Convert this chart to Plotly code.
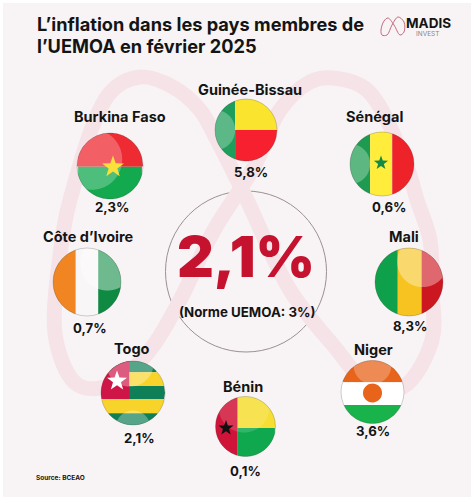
import numpy as np
import plotly.graph_objects as go

# data
countries = ['Guinée-Bissau', 'Burkina Faso', 'Sénégal', "Côte d’Ivoire", 'Mali', 'Togo', 'Niger', 'Bénin']
inflation = [5.8, 2.3, 0.6, 0.7, 8.3, 2.1, 3.6, 0.1]
uemoa_rate = 2.1
uemoa_norm = 3

# layout of the infographic, in pixels of the page
label_pos = [(250, 89), (120, 116), (374, 116), (88, 236), (404, 236), (132, 348), (373, 349), (243, 386)]
value_pos = [(251, 172), (112, 207), (389, 207), (90, 328), (410, 326), (139, 438), (373, 431), (245, 471)]
flag_pos = [(246, 130, 31), (110, 166, 33), (382, 164, 32), (87, 282, 34), (409, 282, 34),
            (133, 393, 32), (372.5, 392, 31.5), (245.5, 426.5, 30)]

BG = '#F8F4F5'
WATERMARK = '#F6E3E7'
RED = '#C4122F'
INK = '#141414'
FONT = 'Inter'


def band(c, x0, x1, y0, y1, color):
    # rectangle (fractions of the radius) cut to the round flag
    cx, cy, r = c
    xs = np.linspace(max(x0, -1), min(x1, 1), 60)
    h = np.sqrt(np.clip(1 - xs ** 2, 0, None))
    top = np.maximum(-h, y0)
    bot = np.minimum(h, y1)
    keep = top <= bot
    xs, top, bot = xs[keep], top[keep], bot[keep]
    px = np.concatenate([xs, xs[::-1]]) * r + cx
    py = np.concatenate([top, bot[::-1]]) * r + cy
    return poly(px, py, color)


def lens(c, dx, dy, k, opacity):
    # part of the flag inside a second, shifted circle: the glossy highlight
    cx, cy, r = c
    xs = np.linspace(max(-1, dx - k), min(1, dx + k), 120)
    h1 = np.sqrt(np.clip(1 - xs ** 2, 0, None))
    h2 = np.sqrt(np.clip(k ** 2 - (xs - dx) ** 2, 0, None))
    top = np.maximum(-h1, dy - h2)
    bot = np.minimum(h1, dy + h2)
    keep = top <= bot
    xs, top, bot = xs[keep], top[keep], bot[keep]
    px = np.concatenate([xs, xs[::-1]]) * r + cx
    py = np.concatenate([top, bot[::-1]]) * r + cy
    return poly(px, py, 'white', opacity)


def star(x, y, r, color):
    a = np.arange(10) * np.pi / 5 - np.pi / 2
    rr = np.where(np.arange(10) % 2 == 0, r, r * 0.4)
    return poly(x + rr * np.cos(a), y + rr * np.sin(a), color)


def disc(x, y, r, color):
    a = np.linspace(0, 2 * np.pi, 40)
    return poly(x + r * np.cos(a), y + r * np.sin(a), color)


def poly(px, py, color, opacity=1):
    path = 'M' + 'L'.join(f'{a:.2f},{b:.2f}' for a, b in zip(px, py)) + 'Z'
    return dict(type='path', path=path, fillcolor=color, opacity=opacity, line_width=0, layer='above')


def ring(c):
    cx, cy, r = c
    return dict(type='circle', x0=cx - r, x1=cx + r, y0=cy - r, y1=cy + r,
                line=dict(color='rgba(60,60,60,0.3)', width=0.8), layer='above')


c = flag_pos
flags = [
    # Guinée-Bissau (the flag on the original is the one of Benin)
    band(c[0], -1, -0.35, -1, 1, '#1F9D5B'), band(c[0], -0.35, 1, -1, 0, '#FBE42D'), band(c[0], -0.35, 1, 0, 1, '#F6202F'),
    lens(c[0], -1.0, 0, 0.65, 0.28),
    # Burkina Faso
    band(c[1], -1, 1, -1, 0.02, '#EE2B33'), band(c[1], -1, 1, 0.02, 1, '#12A94F'),
    lens(c[1], -0.55, -0.2, 0.92, 0.25), star(113, 167, 11.5, '#F9E03A'),
    # Sénégal
    band(c[2], -1, -0.37, -1, 1, '#1E9B50'), band(c[2], -0.37, 0.32, -1, 1, '#FFEC3B'), band(c[2], 0.32, 1, -1, 1, '#EE2229'),
    lens(c[2], -1.0, 0, 0.63, 0.28), star(381, 163, 7.5, '#138A45'),
    # Côte d'Ivoire
    band(c[3], -1, -0.33, -1, 1, '#F08522'), band(c[3], -0.33, 0.33, -1, 1, '#F8F6F6'), band(c[3], 0.33, 1, -1, 1, '#0F8A43'),
    lens(c[3], 0.6, -0.55, 0.8, 0.4),
    # Mali
    band(c[4], -1, -0.33, -1, 1, '#0FA04B'), band(c[4], -0.33, 0.37, -1, 1, '#F6C321'), band(c[4], 0.37, 1, -1, 1, '#CC1720'),
    lens(c[4], 0.4, -0.6, 0.75, 0.35),
    # Togo
    band(c[5], -1, 1, -1, -0.65, '#0E7F56'), band(c[5], -1, 1, -0.65, -0.22, '#F8D42A'), band(c[5], -1, 1, -0.22, 0.19, '#0E7F56'),
    band(c[5], -1, 1, 0.19, 0.63, '#F8D42A'), band(c[5], -1, 1, 0.63, 1, '#0E7F56'),
    band(c[5], -1, -0.12, -1, 0.19, '#CF1547'), star(117, 381, 10.5, 'white'),
    lens(c[5], -0.1, -0.95, 0.75, 0.3), lens(c[5], 0, 1.1, 0.55, 0.3),
    # Niger
    band(c[6], -1, 1, -1, -0.31, '#E8641B'), band(c[6], -1, 1, -0.31, 0.41, '#FFFFFF'), band(c[6], -1, 1, 0.41, 1, '#18B34A'),
    disc(372.5, 393, 9.5, '#E8641B'),
    lens(c[6], 0, -0.85, 0.6, 0.25),
    # Bénin (the flag on the original is the one of Guinea-Bissau)
    band(c[7], -1, -0.26, -1, 1, '#D01338'), band(c[7], -0.26, 1, -1, 0.05, '#F6DE33'), band(c[7], -0.26, 1, 0.05, 1, '#10A84F'),
    lens(c[7], -0.05, -0.65, 0.85, 0.15), star(226, 428, 8, '#111111'),
]
flags += [ring(p) for p in flag_pos]

fig = go.Figure()

# big watermark of the logo behind everything
wm_x = [280, 255, 213, 180, 150, 112, 78, 56, 60, 70, 110, 140, 173, 200, 217, 247, 290, 333, 370, 403, 432, 432, 430, 417, 407, 367, 333, 310, 280]
wm_y = [110, 165, 232, 300, 350, 385, 385, 340, 255, 200, 93, 77, 87, 110, 140, 200, 290, 345, 385, 387, 340, 290, 240, 200, 167, 90, 78, 82, 110]
fig.add_trace(go.Scatter(x=wm_x, y=wm_y, mode='lines', line=dict(color=WATERMARK, width=15, shape='spline', smoothing=1),
                         hoverinfo='skip'))

# small logo
logo_x = [381, 384, 388, 394, 400, 404, 404, 398, 392, 387, 382, 381]
logo_y = [30, 21, 18, 25, 35, 32, 22, 17, 25, 35, 35, 30]
fig.add_trace(go.Scatter(x=logo_x, y=logo_y, mode='lines', line=dict(color='#BF6C80', width=1, shape='spline'),
                         hoverinfo='skip'))

shapes = [
    dict(type='rect', x0=3, x1=471, y0=3, y1=497, fillcolor=BG, line_width=0, layer='below'),
    dict(type='circle', x0=165.5, x1=326.5, y0=191, y1=352, line=dict(color='#9C8F93', width=1), layer='below'),
] + flags


def txt(x, y, s, size, color=INK, weight=700, anchor='center'):
    return dict(x=x, y=y, text=s, showarrow=False, xanchor=anchor, yanchor='middle',
                font=dict(family=FONT, size=size, color=color, weight=weight))


def fr(v):
    return f'{v:.1f}%'.replace('.', ',')


notes = [
    txt(35, 24, 'L’inflation dans les pays membres de', 18.2, anchor='left'),
    txt(35, 46, 'l’UEMOA en février 2025', 18.2, anchor='left'),
    txt(428, 23, 'MADIS', 13.5),
    txt(427, 34, 'INVEST', 6.5, color='#8A8589', weight=400),
    txt(246, 256, fr(uemoa_rate), 57, color=RED, weight=900),
    txt(247, 312, f'(Norme UEMOA: {uemoa_norm}%)', 13.3),
    txt(34, 478, 'Source: BCEAO', 6.5, anchor='left'),
]
for name, v, lp, vp in zip(countries, inflation, label_pos, value_pos):
    notes.append(txt(lp[0], lp[1], name, 14.5))
    notes.append(txt(vp[0], vp[1], fr(v), 13.2))

fig.update_layout(
    width=474, height=503, margin=dict(l=0, r=0, t=0, b=0),
    paper_bgcolor='white', plot_bgcolor='white', showlegend=False,
    xaxis=dict(range=[0, 474], visible=False, fixedrange=True),
    yaxis=dict(range=[503, 0], visible=False, fixedrange=True),
    shapes=shapes, annotations=notes,
)

# the page body has a default margin that would push the picture off
fig.write_html("out.html", config={'displayModeBar': False},
               post_script="document.body.style.margin='0';")
